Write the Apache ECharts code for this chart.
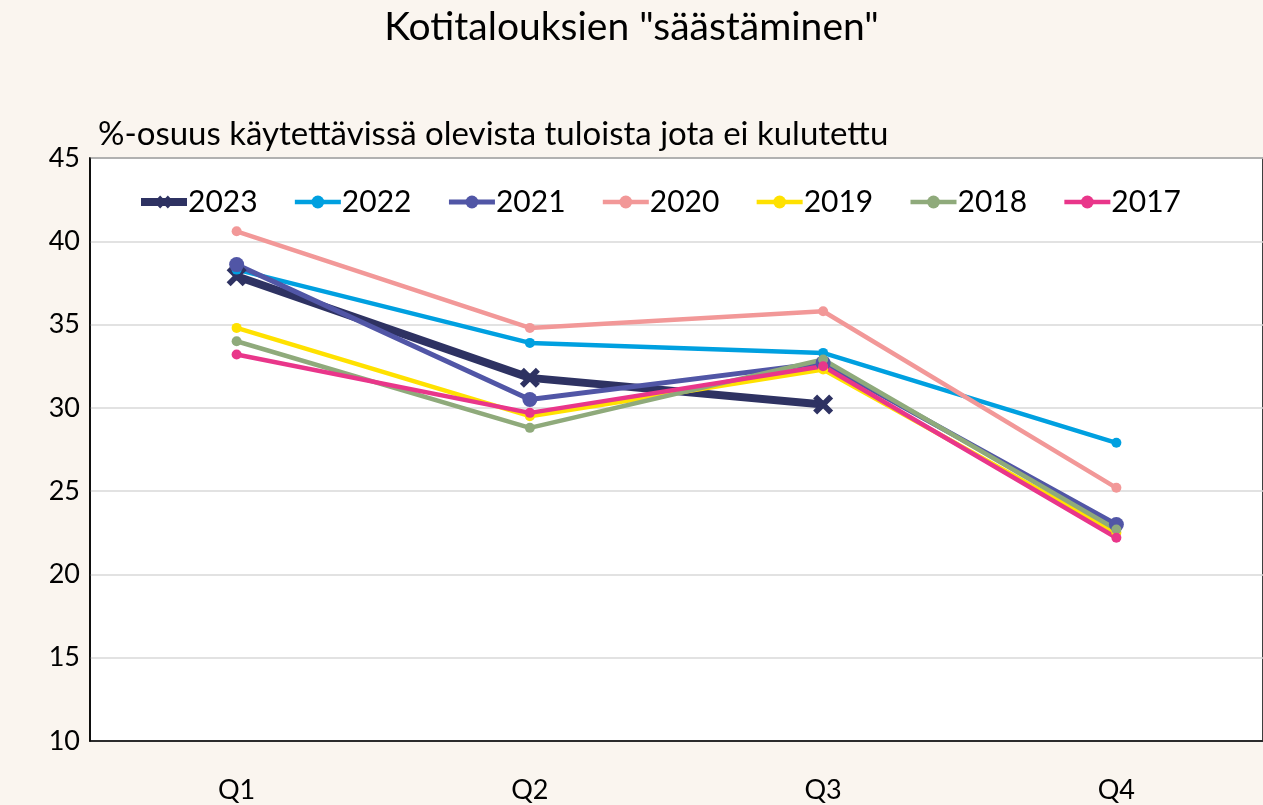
<!DOCTYPE html>
<html>
<head>
<meta charset="utf-8">
<script src="https://cdn.jsdelivr.net/npm/echarts@6/dist/echarts.min.js"></script>
<style>
html, body { margin: 0; padding: 0; background: #faf5ef; }
#chart { width: 1263px; height: 805px; }
</style>
</head>
<body>
<div id="chart"></div>
<script>
var quarters = ['Q1', 'Q2', 'Q3', 'Q4']
var y2023 = [37.9, 31.8, 30.2, null]
var y2022 = [38.3, 33.9, 33.3, 27.9]
var y2021 = [38.6, 30.5, 32.7, 23.0]
var y2020 = [40.6, 34.8, 35.8, 25.2]
var y2019 = [34.8, 29.5, 32.3, 22.5]
var y2018 = [34.0, 28.8, 32.9, 22.7]
var y2017 = [33.2, 29.7, 32.5, 22.2]

var font = 'Lato, sans-serif'
var xMark = 'path://M2,0 L5,3 L8,0 L10,2 L7,5 L10,8 L8,10 L5,7 L2,10 L0,8 L3,5 L0,2 Z'

function line(name, data, color, width, symbol, size) {
    return {
        type: 'line',
        name: name,
        data: data,
        color: color,
        symbol: symbol,
        symbolSize: size,
        showSymbol: true,
        lineStyle: { width: width, color: color },
        itemStyle: { color: color },
        emphasis: { disabled: true },
        animation: false
    }
}

var myChart = echarts.init(document.getElementById('chart'))
var options = {
    backgroundColor: '#faf5ef',
    textStyle: { fontFamily: font },
    title: [{
        text: 'Kotitalouksien "säästäminen"',
        left: 'center',
        top: 3,
        textStyle: { fontFamily: font, fontSize: 39, fontWeight: 'normal', color: '#000' }
    }, {
        text: '%-osuus käytettävissä olevista tuloista jota ei kulutettu',
        left: 93,
        top: 113,
        textStyle: { fontFamily: font, fontSize: 33, fontWeight: 'normal', color: '#000' }
    }],
    legend: {
        top: 182,
        left: 132,
        itemGap: 35,
        itemWidth: 46,
        itemHeight: 16,
        lineStyle: { width: 'inherit' },
        textStyle: { fontFamily: font, fontSize: 30, color: '#000', padding: [0, 0, 0, -4] },
        data: ['2023', '2022', '2021', '2020', '2019', '2018', '2017']
    },
    grid: {
        left: 90,
        right: -2,
        top: 158,
        bottom: 64,
        show: true,
        backgroundColor: '#fff',
        borderColor: '#000',
        borderWidth: 1.5
    },
    xAxis: {
        type: 'category',
        data: quarters,
        boundaryGap: true,
        axisLine: { lineStyle: { color: '#000', width: 1.5 } },
        axisTick: { show: false },
        axisLabel: { color: '#000', fontSize: 27, margin: 36, fontFamily: font }
    },
    yAxis: {
        type: 'value',
        min: 10,
        max: 45,
        interval: 5,
        axisLine: { show: true, lineStyle: { color: '#000', width: 1.5 } },
        axisTick: { show: false },
        splitLine: { lineStyle: { color: '#d9d9d9', width: 1.5 } },
        axisLabel: { color: '#000', fontSize: 27, margin: 10, fontFamily: font }
    },
    series: [
        line('2023', y2023, '#2e3262', 8, xMark, 20),
        line('2022', y2022, '#00a0e0', 4.5, 'circle', 10),
        line('2021', y2021, '#5156a6', 5, 'circle', 15),
        line('2020', y2020, '#f29898', 4.5, 'circle', 10),
        line('2019', y2019, '#ffe100', 4.5, 'circle', 10),
        line('2018', y2018, '#8faa7b', 4.5, 'circle', 10),
        line('2017', y2017, '#e9368a', 4.5, 'circle', 10)
    ]
}
myChart.setOption(options)
</script>
</body>
</html>
